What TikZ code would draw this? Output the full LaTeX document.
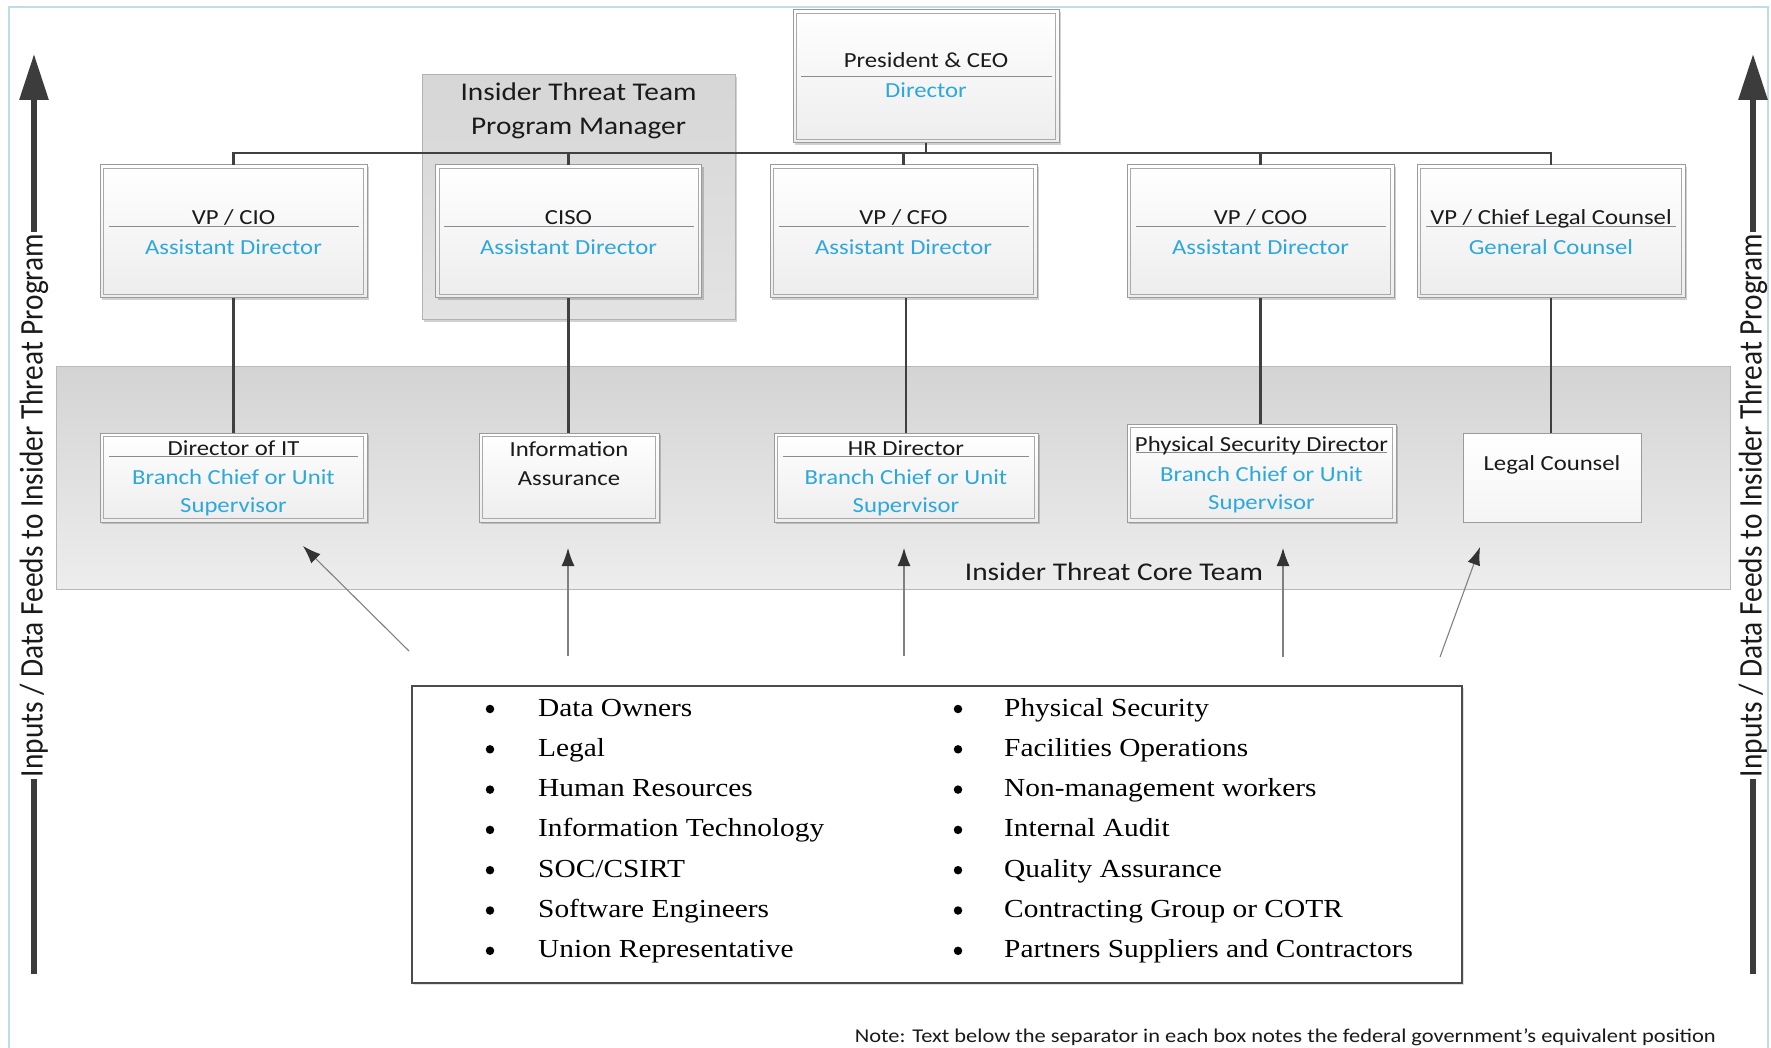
\documentclass[tikz,border=0pt]{standalone}
\usepackage{fontspec}
\setmainfont{Carlito}
\newfontfamily\boxfont[FakeStretch=1.15]{Carlito}
\newfontfamily\sidefont[FakeStretch=0.89]{Carlito}
\newfontfamily\listfont[FakeStretch=1.13]{Liberation Serif}
\usetikzlibrary{arrows.meta,shadows,calc}
\definecolor{cyanx}{RGB}{46,168,220}
\definecolor{txt}{RGB}{26,26,26}
\definecolor{orgc}{RGB}{64,64,64}
\definecolor{boxb}{RGB}{155,155,155}
\definecolor{innerb}{RGB}{170,170,170}
\definecolor{sepc}{RGB}{140,140,140}
\definecolor{framec}{RGB}{190,222,230}
\definecolor{sidec}{RGB}{60,60,60}
\tikzset{
  orgbox/.style={draw=boxb, line width=1pt, top color=white, bottom color=black!7,
    drop shadow={shadow xshift=2pt, shadow yshift=-2pt, opacity=.18, fill=black},
    inner sep=0pt, outer sep=0pt},
  plainbox/.style={draw=boxb, line width=1pt, top color=white, bottom color=black!4,
    inner sep=0pt, outer sep=0pt},
  pmbox/.style={draw=black!30, line width=1pt, top color=black!16, bottom color=black!11,
    drop shadow={shadow xshift=2pt, shadow yshift=-2pt, opacity=.18, fill=black},
    inner sep=0pt, outer sep=0pt},
  coreband/.style={draw=black!28, line width=1pt, top color=black!17, bottom color=black!7,
    inner sep=0pt, outer sep=0pt},
  listbox/.style={draw=black!70, line width=1.5pt, fill=white,
    drop shadow={shadow xshift=2pt, shadow yshift=-2pt, opacity=.12, fill=black},
    inner sep=0pt, outer sep=0pt},
  innerline/.style={draw=innerb, line width=0.9pt},
  sepline/.style={draw=sepc, line width=0.9pt},
  orgline/.style={draw=orgc, line width=2.2pt},
  maintext/.style={anchor=base, inner sep=0pt, text=txt, font=\boxfont\fontsize{21.5}{24}\selectfont},
  subtext/.style={anchor=base, inner sep=0pt, text=cyanx, font=\boxfont\fontsize{21.5}{24}\selectfont},
  bigtext/.style={anchor=base, inner sep=0pt, text=txt, font=\boxfont\fontsize{25.5}{28}\selectfont},
  listitem/.style={anchor=base west, inner sep=0pt, text=black, font=\listfont\fontsize{26}{30}\selectfont},
  bulletdot/.style={circle, fill=black, inner sep=0pt, minimum size=8.5pt},
  sidelabel/.style={rotate=90, inner xsep=2pt, inner ysep=0pt, text=txt, font=\sidefont\fontsize{33}{36}\selectfont},
  sidearrow/.style={draw=sidec, line width=6pt},
  feed/.style={draw=black!50, line width=1.1pt, -{Latex[length=18pt, width=13pt, color=black!80]}},
  notetext/.style={anchor=base east, inner sep=0pt, text=txt, font=\boxfont\fontsize{19.5}{22}\selectfont}
}
\begin{document}
\begin{tikzpicture}[x=1pt,y=-1pt]
\useasboundingbox (0,0) rectangle (1771,1048);
\fill[white] (0,0) rectangle (1771,1048);
% frame
\draw[framec, line width=1.5pt] (9,1048) -- (9,7) -- (1768,7) -- (1768,1048);

% core band and program manager box
\node[coreband, minimum width=1674pt, minimum height=223pt] (band) at (893,477.5) {};
\node[pmbox, minimum width=313pt, minimum height=245pt] (pm) at (578.5,197.5) {};
\node[bigtext] (pm1) at (578.5,101) {Insider Threat Team};
\node[bigtext] (pm2) at (578.5,135) {Program Manager};
\node[bigtext] (bandlabel) at (1114,580) {Insider Threat Core Team};

% top level boxes
\node[orgbox, minimum width=266pt, minimum height=133pt] (ceo) at (926,76.5) {};
\node[orgbox, minimum width=267pt, minimum height=133pt] (cio) at (233.5,231.5) {};
\node[orgbox, minimum width=266pt, minimum height=133pt] (ciso) at (568.5,231.5) {};
\node[orgbox, minimum width=267pt, minimum height=133pt] (cfo) at (903.5,231.5) {};
\node[orgbox, minimum width=267pt, minimum height=133pt] (coo) at (1260.5,231.5) {};
\node[orgbox, minimum width=268pt, minimum height=133pt] (clc) at (1551,231.5) {};

% core team boxes
\node[orgbox, minimum width=267pt, minimum height=89pt] (dit) at (233.5,477.5) {};
\node[orgbox, minimum width=180pt, minimum height=89pt] (ia) at (569,477.5) {};
\node[orgbox, minimum width=264pt, minimum height=89pt] (hr) at (906,477.5) {};
\node[orgbox, minimum width=269pt, minimum height=98pt] (psd) at (1261.5,473) {};
\node[plainbox, minimum width=178pt, minimum height=89pt] (lc) at (1552,477.5) {};

% inner borders
\foreach \n in {ceo,cio,ciso,cfo,coo,clc,dit,ia,hr,psd}
  \draw[innerline] ($(\n.north west)+(3.5,3.5)$) rectangle ($(\n.south east)+(-3.5,-3.5)$);

% separators
\draw[sepline] (801,76) -- (1052,76);
\foreach \cx in {233.5,568.5,903.5,1260.5,1551}
  \draw[sepline] (\cx-125,226) -- (\cx+125,226);
\draw[sepline] (109,456) -- (358,456);
\draw[sepline] (783,456) -- (1029,456);
\draw[sepline] (1136,452) -- (1387,452);

% texts
\node[maintext] (ceo1) at (926,68) {President \& CEO};
\node[subtext] (ceo2) at (926,98) {Director};
\node[maintext] (cio1) at (233.5,225) {VP / CIO};
\node[subtext] (cio2) at (233.5,255) {Assistant Director};
\node[maintext] (ciso1) at (568.5,225) {CISO};
\node[subtext] (ciso2) at (568.5,255) {Assistant Director};
\node[maintext] (cfo1) at (903.5,225) {VP / CFO};
\node[subtext] (cfo2) at (903.5,255) {Assistant Director};
\node[maintext] (coo1) at (1260.5,225) {VP / COO};
\node[subtext] (coo2) at (1260.5,255) {Assistant Director};
\node[maintext] (clc1) at (1551,225) {VP / Chief Legal Counsel};
\node[subtext] (clc2) at (1551,255) {General Counsel};

\node[maintext] (dit1) at (233.5,455) {Director of IT};
\node[subtext] (dit2) at (233.5,484) {Branch Chief or Unit};
\node[subtext] (dit3) at (233.5,512) {Supervisor};
\node[maintext] (ia1) at (569,456) {Information};
\node[maintext] (ia2) at (569,485) {Assurance};
\node[maintext] (hr1) at (906,455) {HR Director};
\node[subtext] (hr2) at (906,484) {Branch Chief or Unit};
\node[subtext] (hr3) at (906,512) {Supervisor};
\node[maintext] (psd1) at (1261.5,451) {Physical Security Director};
\node[subtext] (psd2) at (1261.5,481) {Branch Chief or Unit};
\node[subtext] (psd3) at (1261.5,509) {Supervisor};
\node[maintext] (lc1) at (1552,470) {Legal Counsel};

% org connectors
\coordinate (bus) at (0,153);
\draw[orgline] (cio.north) -- (cio.north |- bus) -- (clc.north |- bus) -- (clc.north);
\draw[orgline] (ceo.south) -- (ceo.south |- bus);
\draw[orgline] (ciso.north) -- (ciso.north |- bus);
\draw[orgline] (cfo.north) -- (cfo.north |- bus);
\draw[orgline] (coo.north) -- (coo.north |- bus);
\draw[orgline] (cio.south) -- (dit.north -| cio.south);
\draw[orgline] (ciso.south) -- (ia.north -| ciso.south);
\draw[orgline] (hr.north) -- (hr.north |- cfo.south);
\draw[orgline] (coo.south) -- (psd.north -| coo.south);
\draw[orgline] (clc.south) -- (lc.north -| clc.south);

% list box
\node[listbox, minimum width=1050pt, minimum height=297pt] (list) at (937,834.5) {};
\foreach \t [count=\i from 0] in {Data Owners,Legal,Human Resources,Information Technology,SOC/CSIRT,Software Engineers,Union Representative}{
  \node[bulletdot] (lb\i) at (490,709+40.3*\i) {};
  \node[listitem] (l\i) at (538,716+40.3*\i) {\t};
}
\foreach \t [count=\i from 0] in {Physical Security,Facilities Operations,Non-management workers,Internal Audit,Quality Assurance,Contracting Group or COTR,Partners Suppliers and Contractors}{
  \node[bulletdot] (rb\i) at (958,709+40.3*\i) {};
  \node[listitem] (r\i) at (1004,716+40.3*\i) {\t};
}

% feed arrows
\coordinate (f1s) at (409,651); \coordinate (f1e) at (303,546);
\coordinate (f2s) at (568,656); \coordinate (f2e) at (568,548);
\coordinate (f3s) at (904,656); \coordinate (f3e) at (904,548);
\coordinate (f4s) at (1283,657); \coordinate (f4e) at (1283,548);
\coordinate (f5s) at (1440,657); \coordinate (f5e) at (1480,547);
\foreach \k in {1,...,5} \draw[feed] (f\k s) -- (f\k e);

% side arrows
\node[sidelabel] (ltext) at (34,505.5) {Inputs / Data Feeds to Insider Threat Program};
\node[sidelabel] (rtext) at (1753,505.5) {Inputs / Data Feeds to Insider Threat Program};
\coordinate (lbot) at (34,974); \coordinate (ltop) at (34,54);
\coordinate (rbot) at (1753,974); \coordinate (rtop) at (1753,54);
\draw[sidearrow] (lbot) -- (ltext.west);
\draw[sidearrow, -{Triangle[length=46pt, width=28pt]}] (ltext.east) -- (ltop);
\draw[sidearrow] (rbot) -- (rtext.west);
\draw[sidearrow, -{Triangle[length=46pt, width=28pt]}] (rtext.east) -- (rtop);

% note
\node[notetext] (note) at (1716,1042) {Note: Text below the separator in each box notes the federal government’s equivalent position};
\end{tikzpicture}
\end{document}
